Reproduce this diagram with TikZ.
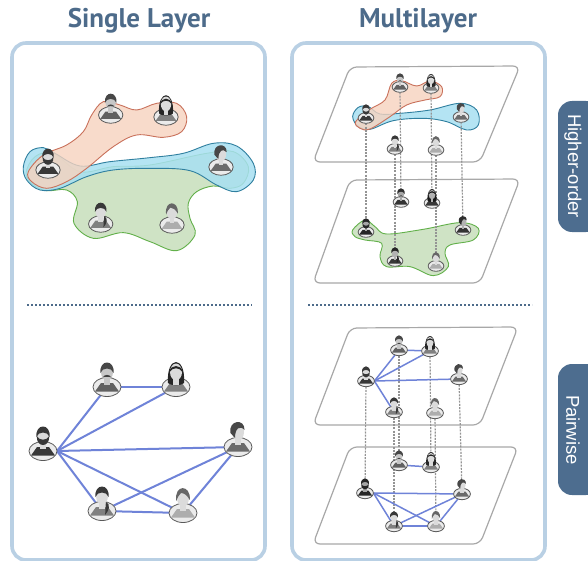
\documentclass[tikz,border=0pt]{standalone}
\usepackage{fontspec}
\setmainfont{Liberation Sans}
\newfontfamily\titlefont{PT Sans}
\usetikzlibrary{shapes.geometric}
\pgfdeclarelayer{hull}\pgfdeclarelayer{edge}
\pgfsetlayers{hull,edge,main}
\definecolor{panelc}{HTML}{B9D0E4}
\definecolor{titlec}{HTML}{4D6B8A}
\definecolor{tabc}{HTML}{4D6D8F}
\definecolor{linkc}{HTML}{6F83D8}
\definecolor{planec}{HTML}{A8A8A8}
\tikzset{
 panel/.style={draw=panelc,line width=3.6pt,rounded corners=14pt,fill=white},
 plane/.style={draw=planec,line width=1.2pt,rounded corners=7pt,fill=white},
 divider/.style={draw=titlec,line width=2pt,dash pattern=on 2pt off 2pt},
 tabbox/.style={fill=tabc,rounded corners=14pt},
 tabtext/.style={text=white,font=\fontsize{18.5}{18.5}\selectfont,rotate=-90},
 titletext/.style={text=titlec,font=\titlefont\bfseries\fontsize{27}{27}\selectfont},
 pbase/.style={ellipse,draw=black!65,fill=black!8,line width=.8pt,inner sep=0pt,outer sep=0pt},
 link/.style={draw=linkc,line width=2pt},
 linksmall/.style={draw=linkc,line width=1.5pt},
 tie/.style={draw=black!42,line width=1.2pt,dash pattern=on 2pt off 1.2pt},
 orangehull/.style={draw=HO,fill=HOf,fill opacity=.8,line width=.9pt},
 bluehull/.style={draw=HB,fill=HBf,fill opacity=.85,line width=.9pt},
 greenhull/.style={draw=HG,fill=HGf,line width=.9pt},
}
\definecolor{HO}{HTML}{C9715B}\definecolor{HOf}{HTML}{F7D3BF}
\definecolor{HB}{HTML}{2F7F9F}\definecolor{HBf}{HTML}{A8E0F2}
\definecolor{HG}{HTML}{62B04A}\definecolor{HGf}{HTML}{CFE3C5}
\newcommand\pbody[1]{\begin{scope}\clip (0,0) ellipse (13.5 and 9);
 \fill[#1] (-12,4.5)--(-6,-4)--(6,-4)--(12,4.5)--cycle;\end{scope}}
\newcommand\pface[1]{\fill[#1] (-2.6,-9) rectangle (2.6,-2);\fill[#1] (0,-15) ellipse (6 and 8.5);}
\newcommand\pcap[1]{\fill[#1] (-6.6,-14) .. controls (-8,-28) and (8,-28) .. (6.6,-14) .. controls (5,-20) and (-5,-20) .. cycle;}
\newcommand\beardshape[1]{\fill[#1] (-6.2,-15) .. controls (-7,-3) and (7,-3) .. (6.2,-15) .. controls (4,-10) and (-4,-10) .. cycle;}
\newcommand\longhair[1]{\fill[#1] (-8,-4) .. controls (-10,-32) and (10,-32) .. (8,-4) .. controls (5,-1) and (-5,-1) .. cycle;}
\newcommand\longfringe[1]{\fill[#1] (-6.5,-15) .. controls (-6,-23) and (6,-23) .. (6.5,-15) .. controls (3,-20) and (-3,-20) .. cycle;}
\newcommand\artbeard{\pbody{black!78}\pface{black!14}\pcap{black!78}\beardshape{black!78}}
\newcommand\artbeardd{\pbody{black!85}\pface{black!35}\pcap{black!85}\beardshape{black!85}}
\newcommand\mustshape{\fill[black!75] (-4.5,-9.5) .. controls (-2,-13) and (2,-13) .. (4.5,-9.5) .. controls (2,-10.5) and (-2,-10.5) .. cycle;}
\newcommand\artmust{\pbody{black!62}\pface{black!22}\pcap{black!72}\mustshape}
\newcommand\artmustd{\pbody{black!80}\pface{black!35}\pcap{black!82}\mustshape}
\newcommand\artlong{\pbody{black!50}\longhair{black!85}\pface{black!14}\longfringe{black!85}}
\newcommand\artlongd{\pbody{black!78}\longhair{black!90}\pface{black!30}\longfringe{black!90}}
\newcommand\sidehair[1]{\fill[#1] (-7.5,-14) .. controls (-10,-27) and (7,-29) .. (6.5,-17) .. controls (2,-22) and (-3,-19) .. (-3,-9) -- cycle;}
\newcommand\artside{\pbody{black!58}\pface{black!14}\sidehair{black!72}}
\newcommand\artsided{\pbody{black!80}\pface{black!30}\sidehair{black!82}}
\newcommand\ponytail[1]{\fill[#1] (4,-9) .. controls (9,-7) and (7,0) .. (3,4) .. controls (4,-1) and (3,-5) .. cycle;}
\newcommand\artpony{\pbody{black!50}\pface{black!14}\pcap{black!78}\ponytail{black!78}}
\newcommand\artponyd{\pbody{black!78}\pface{black!30}\pcap{black!85}\ponytail{black!85}}
\newcommand\artfringe{\pbody{black!32}\pface{black!14}\fill[black!60] (-6.8,-12) .. controls (-9,-29) and (8,-29) .. (6.8,-13) .. controls (4,-18) and (1,-20) .. (-2,-20) .. controls (-4,-18) and (-6,-15) .. cycle;}
\newcommand\person[5]{%
 \node[pbase,minimum width=#4*28pt,minimum height=#4*19pt] (#1) at (#2,#3) {};
 \begin{scope}[shift={(#2,#3)},scale=#4]\csname art#5\endcsname\end{scope}}
\begin{document}
\begin{tikzpicture}[x=1pt,y=-1pt]
\useasboundingbox (0,0) rectangle (588,561);
\begin{pgfonlayer}{hull}
\draw[panel] (12,43) rectangle (265,560);
\draw[panel] (292,43) rectangle (545,560);
\draw[plane] (350,67) -- (520,66) -- (480,162) -- (313,162) -- cycle;
\draw[plane] (350,180) -- (520,179) -- (480,283) -- (313,283) -- cycle;
\draw[plane] (350,328) -- (518,327) -- (480,425) -- (313,425) -- cycle;
\draw[plane] (350,447) -- (518,447) -- (480,544) -- (313,544) -- cycle;
% single-layer hyperedges
\begin{scope}[shift={(0,60)},scale=.3333]
\draw[greenhull] plot[smooth cycle,tension=.6] coordinates {(78,340)(105,290)(160,280)(240,335)(340,320)(450,315)(620,280)(700,275)(745,320)(730,370)(690,385)(640,378)(590,395)(565,430)(570,475)(585,525)(530,572)(450,545)(370,518)(280,535)(222,490)(232,425)(200,390)(140,392)(100,375)};
\draw[bluehull] plot[smooth cycle,tension=.6] coordinates {(70,320)(90,275)(130,263)(165,280)(240,318)(330,305)(450,293)(550,280)(640,250)(710,258)(760,310)(760,360)(710,395)(650,375)(570,332)(450,325)(340,330)(260,350)(180,385)(120,390)(80,360)};
\draw[orangehull] plot[smooth cycle,tension=.6] coordinates {(85,335)(130,285)(200,255)(250,215)(275,165)(310,125)(360,135)(410,150)(470,130)(530,130)(560,170)(545,215)(490,232)(410,225)(340,260)(260,325)(200,365)(140,385)(95,365)};
\end{scope}
% multilayer hyperedges
\begin{scope}[shift={(290,50)},scale=.3333]
\draw[bluehull] plot[smooth cycle,tension=.6] coordinates {(188,200)(205,172)(235,170)(270,192)(330,190)(420,180)(510,160)(560,180)(565,225)(530,240)(470,215)(400,205)(310,212)(240,238)(205,230)};
\draw[orangehull] plot[smooth cycle,tension=.6] coordinates {(197,215)(240,178)(285,150)(305,100)(335,92)(380,108)(420,93)(455,110)(450,140)(405,150)(350,165)(300,200)(240,237)(210,235)};
\draw[greenhull] plot[smooth cycle,tension=.6] coordinates {(188,540)(225,510)(255,530)(290,552)(400,538)(510,518)(565,535)(550,570)(480,585)(465,610)(475,650)(430,677)(360,650)(290,650)(270,620)(275,580)(225,570)(195,560)};
\end{scope}
\end{pgfonlayer}
\node[titletext] (t1) at (139,21) {Single Layer};
\node[titletext] (t2) at (418,21) {Multilayer};
\coordinate (d1a) at (27,305);\coordinate (d1b) at (252,305);
\coordinate (d2a) at (308,305);\coordinate (d2b) at (532,305);
\draw[divider] (d1a) -- (d1b);
\draw[divider] (d2a) -- (d2b);
\fill[tabbox] (558,101) rectangle (600,232);
\fill[tabbox] (558,364) rectangle (600,495);
\node[tabtext] (hotab) at (573,166) {Higher-order};
\node[tabtext] (pwtab) at (573,430) {Pairwise};
% single higher-order
\person{sa}{110.7}{115}{.87}{must}
\person{sb}{166}{117}{.87}{long}
\person{sc}{48}{170}{.87}{beard}
\person{sd}{221}{167}{.87}{side}
\person{se}{100.7}{224}{.87}{pony}
\person{sf}{172}{225}{.87}{fringe}
% single pairwise
\person{pa}{107}{387}{1}{must}
\person{pb}{176}{387}{1}{long}
\person{pc}{43}{451}{1}{beard}
\person{pd}{238}{447}{1}{side}
\person{pe}{102}{511}{1}{pony}
\person{pf}{183}{513}{1}{fringe}
\begin{pgfonlayer}{edge}
\draw[link] (pa) -- (pb);
\draw[link] (pc.east) -- (pa);
\draw[link] (pc.east) -- (pb);
\draw[link] (pc.east) -- (pd);
\draw[link] (pc.east) -- (pe);
\draw[link] (pc.east) -- (pf);
\draw[link] (pd) -- (pe);
\draw[link] (pd) -- (pf);
\draw[link] (pe) -- (pf);
\end{pgfonlayer}
% multilayer higher-order
\person{ua}{400}{87}{.56}{must}
\person{ub}{431}{88}{.56}{long}
\person{uc}{366}{118}{.56}{beard}
\person{ud}{461}{117}{.56}{side}
\person{ue}{395}{149}{.56}{pony}
\person{uf}{436}{150}{.56}{fringe}
\person{la}{401}{202}{.56}{mustd}
\person{lb}{432}{203}{.56}{longd}
\person{lc}{366}{232}{.56}{beardd}
\person{ld}{463}{230}{.56}{sided}
\person{le}{395}{261}{.56}{ponyd}
\person{lf}{436}{266}{.56}{fringe}
\begin{pgfonlayer}{edge}
\foreach \k in {a,b,c,d,e,f}{\draw[tie] (u\k) -- (l\k);}
\end{pgfonlayer}
% multilayer pairwise
\person{va}{399}{350}{.6}{must}
\person{vb}{430}{351}{.6}{long}
\person{vc}{366}{381}{.6}{beard}
\person{vd}{459}{379}{.6}{side}
\person{ve}{394}{412}{.6}{pony}
\person{vf}{435}{413}{.6}{fringe}
\person{wa}{399}{465}{.6}{must}
\person{wb}{431}{467}{.6}{long}
\person{wc}{365}{493}{.6}{beardd}
\person{wd}{462}{494}{.6}{side}
\person{we}{394}{526}{.6}{pony}
\person{wf}{436}{526}{.6}{fringe}
\begin{pgfonlayer}{edge}
\foreach \k in {a,b,c,d,e,f}{\draw[tie] (v\k) -- (w\k);}
\draw[linksmall] (va) -- (vb);
\draw[linksmall] (vc.east) -- (va);
\draw[linksmall] (vc.east) -- (vb);
\draw[linksmall] (vc.east) -- (vd);
\draw[linksmall] (vc.east) -- (ve);
\draw[linksmall] (wa) -- (wb);
\draw[linksmall] (wc.east) -- (wd);
\draw[linksmall] (wc.east) -- (we);
\draw[linksmall] (wc.east) -- (wf);
\draw[linksmall] (wd) -- (we);
\draw[linksmall] (wd) -- (wf);
\draw[linksmall] (we) -- (wf);
\end{pgfonlayer}
\end{tikzpicture}
\end{document}
